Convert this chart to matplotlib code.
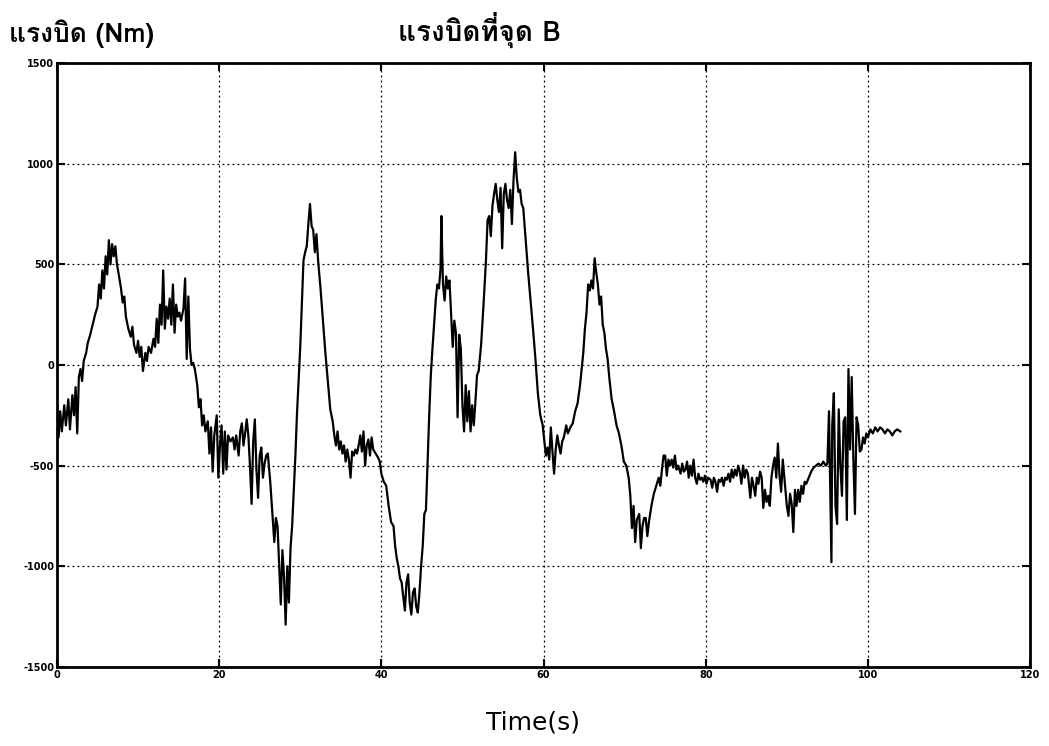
import matplotlib
matplotlib.use("Agg")
import matplotlib.pyplot as plt
from matplotlib import font_manager, ft2font

# torque at point B
time_s = [
    0.0, 0.2, 0.4, 0.6, 0.9, 1.1, 1.4, 1.6, 1.9, 2.1, 2.3, 2.5, 2.7, 2.9, 3.1, 3.3, 3.6, 3.8, 4.1, 4.4,
    4.7, 5.0, 5.2, 5.4, 5.6, 5.8, 6.0, 6.2, 6.4, 6.6, 6.8, 7.0, 7.2, 7.4, 7.7, 7.9, 8.1, 8.3, 8.5, 8.8,
    9.1, 9.3, 9.5, 9.8, 10.0, 10.2, 10.4, 10.6, 10.9, 11.1, 11.3, 11.6, 11.9, 12.1, 12.3, 12.5, 12.7, 12.9, 13.1, 13.3,
    13.5, 13.7, 13.9, 14.1, 14.3, 14.5, 14.7, 14.9, 15.1, 15.3, 15.6, 15.8, 16.0, 16.2, 16.4, 16.6, 16.8, 17.0, 17.3, 17.5,
    17.7, 17.9, 18.1, 18.3, 18.6, 18.8, 19.0, 19.2, 19.4, 19.7, 19.9, 20.1, 20.3, 20.5, 20.7, 20.9, 21.1, 21.4, 21.7, 21.9,
    22.1, 22.4, 22.6, 22.8, 23.0, 23.2, 23.4, 23.6, 23.8, 24.0, 24.2, 24.4, 24.6, 24.8, 25.0, 25.2, 25.4, 25.6, 25.8, 26.0,
    26.3, 26.6, 26.8, 27.0, 27.2, 27.4, 27.6, 27.8, 28.0, 28.2, 28.4, 28.6, 28.8, 29.0, 29.2, 29.4, 29.6, 29.8, 30.0, 30.2,
    30.4, 30.6, 30.8, 31.0, 31.2, 31.4, 31.6, 31.8, 32.0, 32.2, 32.5, 32.8, 33.1, 33.4, 33.7, 34.0, 34.2, 34.4, 34.6, 34.8,
    35.0, 35.2, 35.4, 35.6, 35.8, 36.0, 36.2, 36.4, 36.6, 36.8, 37.0, 37.2, 37.4, 37.6, 37.8, 38.0, 38.2, 38.4, 38.6, 38.8,
    39.0, 39.3, 39.6, 39.8, 40.0, 40.3, 40.6, 40.9, 41.2, 41.5, 41.7, 41.9, 42.1, 42.3, 42.5, 42.7, 42.9, 43.1, 43.3, 43.5,
    43.7, 43.9, 44.1, 44.3, 44.5, 44.7, 44.9, 45.1, 45.3, 45.5, 45.7, 45.9, 46.1, 46.3, 46.5, 46.7, 46.9, 47.1, 47.3, 47.4,
    47.6, 47.8, 48.0, 48.2, 48.4, 48.6, 48.8, 49.0, 49.2, 49.4, 49.6, 49.8, 50.0, 50.2, 50.4, 50.6, 50.8, 51.0, 51.2, 51.4,
    51.6, 51.8, 52.0, 52.3, 52.6, 52.9, 53.1, 53.3, 53.5, 53.7, 53.9, 54.1, 54.3, 54.5, 54.7, 54.9, 55.1, 55.3, 55.5, 55.7,
    55.9, 56.1, 56.3, 56.5, 56.7, 56.9, 57.1, 57.3, 57.5, 57.8, 58.1, 58.4, 58.7, 59.0, 59.3, 59.6, 59.9, 60.1, 60.3, 60.5,
    60.7, 60.9, 61.1, 61.3, 61.5, 61.7, 61.9, 62.1, 62.3, 62.5, 62.8, 63.0, 63.3, 63.6, 63.9, 64.2, 64.5, 64.7, 64.9, 65.1,
    65.3, 65.5, 65.7, 65.9, 66.1, 66.3, 66.5, 66.7, 66.9, 67.1, 67.3, 67.5, 67.7, 67.9, 68.1, 68.4, 68.7, 69.0, 69.3, 69.6,
    69.9, 70.2, 70.5, 70.7, 70.9, 71.1, 71.3, 71.5, 71.8, 72.0, 72.2, 72.4, 72.6, 72.8, 73.0, 73.3, 73.6, 73.9, 74.2, 74.4,
    74.6, 74.8, 75.0, 75.2, 75.4, 75.6, 75.8, 76.0, 76.2, 76.4, 76.6, 76.9, 77.1, 77.3, 77.5, 77.7, 77.9, 78.1, 78.3, 78.5,
    78.7, 78.9, 79.1, 79.3, 79.5, 79.7, 79.9, 80.1, 80.3, 80.6, 80.8, 81.0, 81.2, 81.4, 81.6, 81.8, 82.0, 82.2, 82.4, 82.6,
    82.8, 83.0, 83.2, 83.4, 83.6, 83.8, 84.0, 84.2, 84.4, 84.6, 84.8, 85.0, 85.2, 85.5, 85.7, 85.9, 86.1, 86.3, 86.5, 86.7,
    86.9, 87.1, 87.3, 87.5, 87.7, 87.9, 88.1, 88.3, 88.5, 88.7, 88.9, 89.1, 89.3, 89.5, 89.7, 90.0, 90.2, 90.4, 90.6, 90.8,
    91.0, 91.2, 91.4, 91.6, 91.8, 92.0, 92.2, 92.4, 92.7, 93.0, 93.3, 93.6, 93.9, 94.2, 94.5, 94.8, 95.0, 95.2, 95.4, 95.5,
    95.6, 95.8, 96.0, 96.2, 96.4, 96.6, 96.8, 97.0, 97.2, 97.4, 97.6, 97.8, 98.0, 98.2, 98.4, 98.6, 98.8, 99.0, 99.2, 99.4,
    99.6, 99.8, 100.0, 100.3, 100.6, 100.9, 101.2, 101.5, 101.8, 102.1, 102.4, 102.7, 103.0, 103.3, 103.6, 104.0,
]
torque_nm = [
    -200, -360, -230, -330, -200, -300, -170, -320, -150, -250, -110, -340, -60, -20, -80, 20, 60, 110, 150, 200,
    250, 290, 400, 330, 470, 380, 540, 450, 620, 500, 600, 540, 590, 500, 430, 380, 310, 340, 240, 180,
    140, 190, 100, 60, 120, 40, 90, -30, 60, 20, 90, 60, 130, 90, 230, 110, 300, 200, 470, 180,
    290, 230, 330, 200, 400, 160, 300, 240, 260, 220, 280, 430, 30, 340, 80, 0, 10, -20, -100, -210,
    -170, -300, -250, -330, -280, -440, -310, -530, -350, -250, -560, -400, -300, -540, -330, -520, -350, -380, -360, -420,
    -350, -450, -330, -290, -400, -340, -270, -350, -500, -690, -380, -270, -520, -660, -450, -410, -560, -490, -450, -440,
    -580, -760, -880, -760, -800, -1000, -1190, -920, -1050, -1290, -1000, -1180, -910, -800, -630, -450, -240, -80, 90, 300,
    520, 560, 590, 700, 800, 690, 670, 560, 650, 520, 380, 220, 60, -80, -220, -280, -350, -400, -330, -420,
    -380, -440, -400, -480, -420, -470, -560, -430, -450, -420, -440, -400, -350, -430, -330, -500, -400, -370, -450, -360,
    -420, -440, -460, -480, -540, -580, -600, -700, -780, -800, -900, -960, -1000, -1060, -1080, -1150, -1220, -1080, -1040, -1180,
    -1240, -1130, -1110, -1200, -1230, -1130, -1000, -900, -740, -720, -480, -250, -50, 80, 200, 320, 400, 380, 480, 740,
    400, 320, 440, 380, 420, 250, 90, 220, 160, -260, 150, 80, -200, -330, -100, -280, -130, -330, -200, -300,
    -180, -50, -30, 100, 300, 520, 720, 740, 640, 790, 850, 900, 820, 760, 880, 580, 850, 900, 820, 780,
    870, 700, 920, 1057, 930, 860, 870, 800, 780, 620, 460, 320, 180, 30, -140, -250, -300, -380, -450, -410,
    -470, -310, -430, -540, -420, -350, -400, -440, -380, -360, -300, -340, -310, -290, -230, -190, -100, -20, 60, 180,
    260, 400, 370, 420, 380, 530, 460, 400, 300, 340, 200, 160, 80, 30, -60, -170, -230, -300, -340, -400,
    -480, -500, -560, -650, -810, -700, -880, -770, -740, -910, -800, -760, -760, -850, -780, -700, -640, -600, -560, -600,
    -520, -450, -450, -550, -470, -500, -470, -510, -450, -520, -500, -540, -490, -530, -520, -480, -560, -500, -550, -470,
    -560, -590, -540, -570, -560, -580, -550, -590, -560, -570, -610, -560, -580, -630, -570, -580, -560, -600, -560, -570,
    -540, -580, -520, -560, -520, -550, -500, -530, -590, -500, -560, -520, -540, -660, -560, -600, -650, -560, -590, -530,
    -560, -710, -620, -680, -650, -700, -560, -500, -460, -560, -390, -550, -630, -470, -560, -700, -750, -640, -690, -830,
    -620, -700, -620, -680, -600, -640, -580, -590, -560, -530, -510, -500, -490, -500, -480, -500, -490, -230, -750, -980,
    -300, -140, -700, -790, -220, -500, -650, -280, -260, -770, -20, -420, -60, -460, -740, -260, -300, -430, -420, -360,
    -390, -340, -360, -320, -340, -310, -330, -310, -320, -340, -320, -330, -350, -330, -320, -330,
]

x_ticks = [0, 20, 40, 60, 80, 100, 120]
y_ticks = [-1500, -1000, -500, 0, 500, 1000, 1500]


def thai_font():
    # pick any installed font that can draw Thai, fall back to DejaVu
    for f in font_manager.fontManager.ttflist:
        try:
            if 0x0E41 in ft2font.FT2Font(f.fname).get_charmap():
                return f.name
        except Exception:
            pass
    return "DejaVu Sans"


thai = [thai_font(), "DejaVu Sans"]
plt.rcParams["axes.unicode_minus"] = False

fig = plt.figure(figsize=(10.49, 7.46), dpi=100)
ax = fig.add_axes([0.0543, 0.106, 0.9277, 0.8095])

ax.plot(time_s, torque_nm, color="black", linewidth=1.6)

ax.set_xlim(0, 120)
ax.set_ylim(-1500, 1500)
ax.set_xticks(x_ticks)
ax.set_yticks(y_ticks)
ax.tick_params(direction="in", length=6, width=1.5, labelsize=7,
               top=True, right=True, pad=2)
for lab in ax.get_xticklabels() + ax.get_yticklabels():
    lab.set_fontweight("bold")
for s in ax.spines.values():
    s.set_linewidth(2)
ax.grid(True, color="black", linestyle=(0, (1.5, 2.5)), linewidth=0.9)

fig.text(0.009, 0.935, "แรงบิด (Nm)", family=thai, fontsize=19, fontweight="bold",
         ha="left", va="bottom")
fig.text(0.4566, 0.935, "แรงบิดที่จุด B", family=thai, fontsize=20, fontweight="bold",
         ha="center", va="bottom")
fig.text(0.508, 0.015, "Time(s)", fontsize=18, ha="center", va="bottom")

fig.savefig("out.png", dpi=100)
